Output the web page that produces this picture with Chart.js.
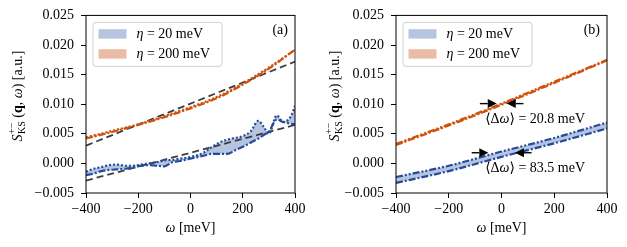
<!DOCTYPE html>
<html>
<head>
<meta charset="utf-8">
<script src="https://cdn.jsdelivr.net/npm/chart.js@4.4.0/dist/chart.umd.min.js"></script>
<style>
  html, body { margin: 0; padding: 0; background: #fff; }
  #wrap { position: relative; width: 627px; height: 247px; }
  canvas { position: absolute; top: 0; }
  #ca { left: 0; }
  #cb { left: 313px; }
</style>
</head>
<body>
<div id="wrap">
  <canvas id="ca" width="313" height="247"></canvas>
  <canvas id="cb" width="314" height="247"></canvas>
</div>
<script>
// tick labels
var xTicks = [-400, -200, 0, 200, 400];
var yTicks = [-0.005, 0, 0.005, 0.010, 0.015, 0.020, 0.025];

// panel (a) : eta = 20 meV (wavy)
var aBlueX = [-400,-370,-340,-310,-280,-250,-220,-190,-160,-130,-100,-70,-40,-10,20,50,80,110,140,170,200,230,260,280,300,330,355,385,400];
var aBlueDot = [-0.0014,-0.0009,-0.0006,-0.0003,-0.0002,-0.0004,-0.0004,-0.0002,0.0000,0.0002,0.0005,0.0006,0.0008,0.0010,0.0013,0.0018,0.0027,0.0035,0.0040,0.0043,0.0046,0.0054,0.0072,0.0062,0.0050,0.0081,0.0070,0.0080,0.0097];
var aBlueDashDot = [-0.0020,-0.0017,-0.0013,-0.0011,-0.0010,-0.0009,-0.0007,-0.0004,-0.0003,-0.0004,-0.0005,0.0002,0.0004,0.0007,0.0010,0.0013,0.0016,0.0016,0.0016,0.0022,0.0028,0.0035,0.0042,0.0048,0.0054,0.0074,0.0070,0.0067,0.0066];

// panel (a) : eta = 200 meV
var aOrangeX = [-400,-300,-200,-100,0,100,200,300,400];
var aOrangeDashDot = [0.0042,0.0053,0.0065,0.0078,0.0093,0.0110,0.0133,0.0160,0.0192];
var aOrangeDot = [0.0044,0.0055,0.0066,0.0080,0.0095,0.0112,0.0135,0.0162,0.0192];

// panel (a) : linear fits
var aFitX = [-400, 400];
var aFitOrange = [0.0030, 0.0172];
var aFitBlue = [-0.0029, 0.0065];

// panel (b)
var bX = [-400, -200, 0, 200, 400];
var bOrangeA = [0.0031, 0.0064, 0.0099, 0.0136, 0.0174];
var bOrangeB = [0.0033, 0.0066, 0.0101, 0.0138, 0.0175];
var bBlueUpper = [-0.0023, -0.0004, 0.0020, 0.0043, 0.0069];
var bBlueLower = [-0.0033, -0.0013, 0.0011, 0.0034, 0.0059];

// arrows and notes of panel (b), in data units
var bArrows = [
  {y: 0.0101, from: -82, to: -18},
  {y: 0.0101, from: 83, to: 20},
  {y: 0.0018, from: -113, to: -50},
  {y: 0.0018, from: 114, to: 51}
];
var bNotes = [
  {x: -62, y: 0.0074, val: '20.8'},
  {x: -62, y: -0.0008, val: '83.5'}
];

var legendEta = ['20', '200'];

var SERIF = '"Liberation Serif", "DejaVu Serif", serif';
var FS = 14;
var BLUE = '#244b9b';
var ORANGE = '#cf520c';
var BLUE_FILL = '#b5c4df';
var ORANGE_FILL = '#ebbca5';
var GREY = '#3d3d3d';

function pts(xs, ys) {
  return xs.map(function (x, i) { return {x: x, y: ys[i]}; });
}

function f(size, style) {
  return (style || '') + ' ' + size + 'px ' + SERIF;
}

// draws a list of text pieces one after another, returns total width
function rich(ctx, x, y, parts, measureOnly) {
  var cx = x;
  parts.forEach(function (p) {
    ctx.font = p.f;
    var w = ctx.measureText(p.t).width;
    if (p.stack) {
      ctx.font = p.stack.f;
      w = Math.max(w, ctx.measureText(p.stack.t).width);
    }
    if (!measureOnly) {
      ctx.font = p.f;
      ctx.fillText(p.t, cx, y + (p.dy || 0));
      if (p.stack) {
        ctx.font = p.stack.f;
        ctx.fillText(p.stack.t, cx, y + p.stack.dy);
      }
    }
    cx += w + (p.gap || 0);
  });
  return cx - x;
}

function arrow(ctx, x0, x1, y) {
  var dir = x1 > x0 ? 1 : -1;
  var head = 9;
  ctx.strokeStyle = '#000';
  ctx.lineWidth = 1.4;
  ctx.beginPath();
  ctx.moveTo(x0, y);
  ctx.lineTo(x1 - dir * head, y);
  ctx.stroke();
  ctx.fillStyle = '#000';
  ctx.beginPath();
  ctx.moveTo(x1, y);
  ctx.lineTo(x1 - dir * head, y - 4.5);
  ctx.lineTo(x1 - dir * head, y + 4.5);
  ctx.closePath();
  ctx.fill();
}

function decorPlugin(panel, titleOffset, arrows, notes) {
  return {
    id: 'decor' + panel,
    afterDraw: function (chart) {
      var ctx = chart.ctx;
      var ca = chart.chartArea;
      var xs = chart.scales.x, ys = chart.scales.y;
      ctx.save();

      // frame
      ctx.strokeStyle = '#000';
      ctx.lineWidth = 1;
      ctx.strokeRect(ca.left, ca.top, ca.right - ca.left, ca.bottom - ca.top);

      ctx.fillStyle = '#000';
      ctx.textBaseline = 'middle';
      ctx.textAlign = 'left';

      // x title
      var xt = [{t: 'ω', f: f(FS, 'italic')}, {t: ' [meV]', f: f(FS)}];
      var wx = rich(ctx, 0, 0, xt, true);
      rich(ctx, (ca.left + ca.right) / 2 - wx / 2, 228, xt);

      // y title, rotated
      var yt = [
        {t: 'S', f: f(FS, 'italic'), gap: 0.5},
        {t: '+−', f: f(10), dy: -5.5, stack: {t: 'KS', f: f(10), dy: 4.5}, gap: 3.5},
        {t: '(', f: f(FS)},
        {t: 'q', f: f(FS, 'bold')},
        {t: ', ', f: f(FS)},
        {t: 'ω', f: f(FS, 'italic')},
        {t: ') [a.u.]', f: f(FS)}
      ];
      var wy = rich(ctx, 0, 0, yt, true);
      ctx.save();
      ctx.translate(ca.left - titleOffset, 96);
      ctx.rotate(-Math.PI / 2);
      rich(ctx, -wy / 2, 0, yt);
      ctx.restore();

      // panel label
      ctx.font = f(FS);
      ctx.textAlign = 'right';
      ctx.fillText('(' + panel + ')', ca.right - 7, ca.top + 15);
      ctx.textAlign = 'left';

      // legend
      var bx = ca.left + 7, by = ca.top + 7, bw = 129, bh = 44;
      ctx.beginPath();
      ctx.roundRect(bx, by, bw, bh, 3);
      ctx.fillStyle = 'rgba(255,255,255,0.85)';
      ctx.fill();
      ctx.strokeStyle = '#cfcfcf';
      ctx.lineWidth = 1;
      ctx.stroke();
      var fills = [BLUE_FILL, ORANGE_FILL];
      legendEta.forEach(function (eta, i) {
        var cy = by + 11.5 + i * 20;
        ctx.fillStyle = fills[i];
        ctx.fillRect(bx + 5.5, cy - 4.7, 28, 9.4);
        ctx.fillStyle = '#000';
        rich(ctx, bx + 43.5, cy, [
          {t: 'η', f: f(FS, 'italic')},
          {t: ' = ' + eta + ' meV', f: f(FS)}
        ]);
      });

      // arrows
      (arrows || []).forEach(function (a) {
        arrow(ctx, xs.getPixelForValue(a.from), xs.getPixelForValue(a.to), ys.getPixelForValue(a.y));
      });
      ctx.fillStyle = '#000';
      (notes || []).forEach(function (n) {
        rich(ctx, xs.getPixelForValue(n.x), ys.getPixelForValue(n.y), [
          {t: '⟨Δ', f: f(FS)},
          {t: 'ω', f: f(FS, 'italic')},
          {t: '⟩ = ' + n.val + ' meV', f: f(FS)}
        ]);
      });

      ctx.restore();
    }
  };
}

function line(data, color, dash, width, fill, fillColor) {
  return {
    data: data,
    borderColor: color,
    borderDash: dash,
    borderWidth: width,
    pointRadius: 0,
    fill: fill || false,
    backgroundColor: fillColor || 'transparent',
    cubicInterpolationMode: 'monotone'
  };
}

var DASHDOT = [7, 2, 2, 2];
var DASHDOTDOT = [7, 2, 2, 2, 2, 2];
var DOT = [2, 2];
var DASHED = [7, 4];

function makeChart(id, datasets, yWidth, padRight, plugin) {
  return new Chart(document.getElementById(id), {
    type: 'line',
    data: {datasets: datasets},
    options: {
      responsive: false,
      animation: false,
      layout: {padding: {left: 0, right: padRight, top: 15, bottom: 0}},
      plugins: {
        legend: {display: false},
        tooltip: {enabled: false},
        filler: {drawTime: 'beforeDatasetsDraw'}
      },
      scales: {
        x: {
          type: 'linear', min: -400, max: 400,
          afterBuildTicks: function (s) { s.ticks = xTicks.map(function (v) { return {value: v}; }); },
          afterFit: function (s) { s.height = 54; },
          grid: {display: true, drawOnChartArea: false, drawTicks: true, tickLength: 5, color: '#000', lineWidth: 1},
          border: {display: false},
          ticks: {
            color: '#000', padding: 3, maxRotation: 0,
            font: {family: SERIF, size: FS},
            callback: function (v) { return (v < 0 ? '−' : '') + Math.abs(v); }
          }
        },
        y: {
          min: -0.005, max: 0.025,
          afterBuildTicks: function (s) { s.ticks = yTicks.map(function (v) { return {value: v}; }); },
          afterFit: function (s) { s.width = yWidth; },
          grid: {display: true, drawOnChartArea: false, drawTicks: true, tickLength: 5, color: '#000', lineWidth: 1},
          border: {display: false},
          ticks: {
            color: '#000', padding: 7,
            font: {family: SERIF, size: FS},
            callback: function (v) { return (v < -1e-9 ? '−' : '') + Math.abs(v).toFixed(3); }
          }
        }
      }
    },
    plugins: [plugin]
  });
}

makeChart('ca', [
  line(pts(aBlueX, aBlueDot), BLUE, DOT, 2.2, '+1', BLUE_FILL),
  line(pts(aBlueX, aBlueDashDot), BLUE, DASHDOT, 2.2),
  line(pts(aOrangeX, aOrangeDot), ORANGE, DOT, 2.2, '+1', ORANGE_FILL),
  line(pts(aOrangeX, aOrangeDashDot), ORANGE, DASHDOT, 2.2),
  line(pts(aFitX, aFitBlue), GREY, DASHED, 1.8),
  line(pts(aFitX, aFitOrange), GREY, DASHED, 1.8)
], 86, 18, decorPlugin('a', 68, null, null));

makeChart('cb', [
  line(pts(bX, bBlueUpper), BLUE, DASHDOTDOT, 2.2, '+1', BLUE_FILL),
  line(pts(bX, bBlueLower), BLUE, DASHDOT, 2.2),
  line(pts(bX, bOrangeB), ORANGE, DASHDOTDOT, 2.2, '+1', ORANGE_FILL),
  line(pts(bX, bOrangeA), ORANGE, DASHDOT, 2.2)
], 83, 20, decorPlugin('b', 61, bArrows, bNotes));
</script>
</body>
</html>
